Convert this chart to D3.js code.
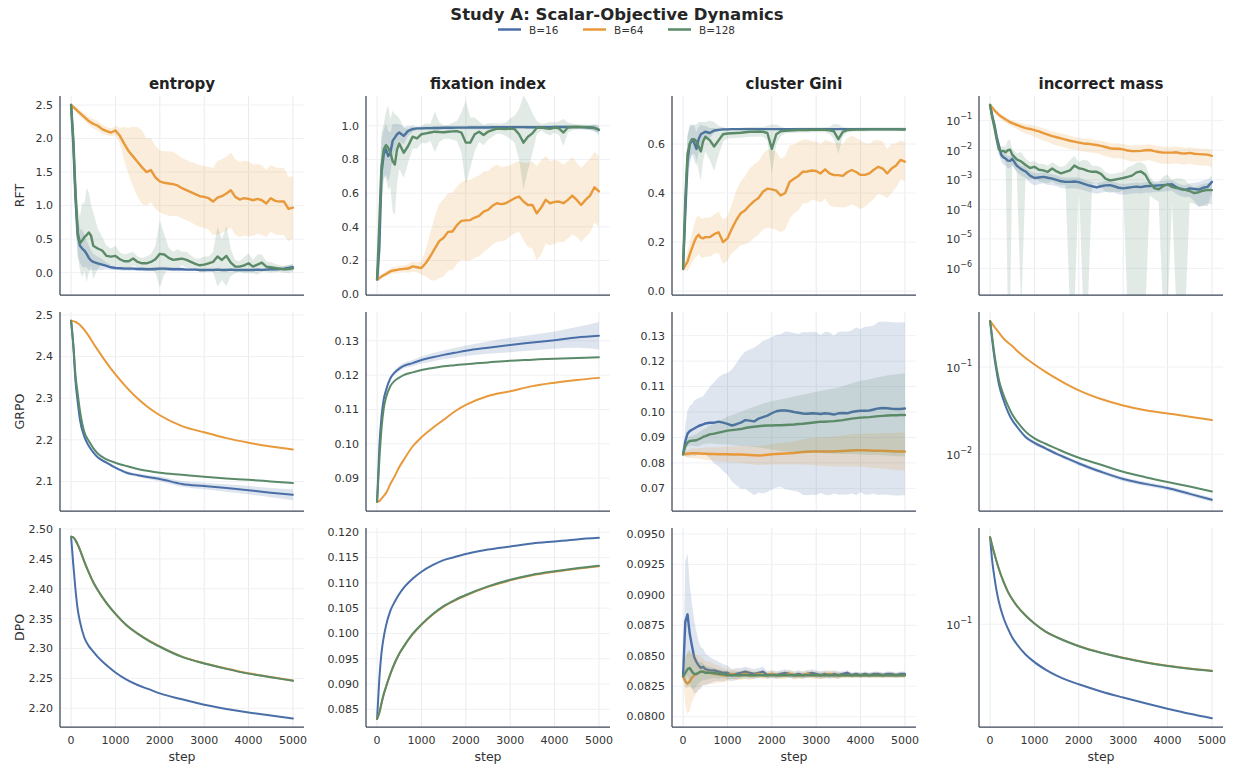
<!DOCTYPE html>
<html>
<head>
<meta charset="utf-8">
<script src="https://cdn.jsdelivr.net/npm/d3@7"></script>
<style>
  html, body { margin: 0; padding: 0; background: #fff; }
  svg { display: block; }
</style>
</head>
<body>
<script>
// ---------------- DATA ----------------
const TITLE = "Study A: Scalar-Objective Dynamics";
const SERIES_NAMES = ["B=16", "B=64", "B=128"];
const COLUMN_TITLES = ["entropy", "fixation index", "cluster Gini", "incorrect mass"];
const ROW_LABELS = ["RFT", "GRPO", "DPO"];
const X_TICKS = [0, 1000, 2000, 3000, 4000, 5000];
const X_LABEL = "step";

const STEPS_NOISY = [0,50,100,150,200,250,300,350,400,450,500,
  600,700,800,900,1000,1100,1200,1300,1400,1500,
  1600,1700,1800,1900,2000,2100,2200,2300,2400,2500,
  2600,2700,2800,2900,3000,3100,3200,3300,3400,3500,
  3600,3700,3800,3900,4000,4100,4200,4300,4400,4500,
  4600,4700,4800,4900,5000];
const STEPS_SMOOTH = [0,50,100,150,200,300,400,500,600,800,1000,1250,1500,1750,2000,2500,3000,3500,4000,4500,5000];

// ---- RFT : entropy ----
const RFT_ENTROPY_B16 = [2.50,1.90,1.10,0.55,0.40,0.36,0.33,0.28,0.22,0.18,0.16,
  0.14,0.12,0.10,0.08,0.07,0.065,0.06,0.06,0.06,0.055,
  0.055,0.05,0.05,0.055,0.06,0.06,0.055,0.05,0.05,0.05,
  0.045,0.045,0.045,0.04,0.04,0.04,0.04,0.045,0.04,0.04,
  0.045,0.04,0.04,0.04,0.04,0.04,0.045,0.04,0.045,0.05,
  0.05,0.055,0.06,0.07,0.08];
const RFT_ENTROPY_B16_SD = [0,0.30,0.40,0.30,0.25,0.28,0.25,0.20,0.18,0.15,0.12,
  0.10,0.08,0.05,0.04,0.03,0.03,0.03,0.03,0.03,0.03,
  0.03,0.03,0.03,0.03,0.03,0.03,0.03,0.03,0.03,0.03,
  0.02,0.02,0.02,0.02,0.02,0.02,0.02,0.02,0.02,0.02,
  0.02,0.02,0.02,0.02,0.02,0.02,0.02,0.02,0.02,0.03,
  0.03,0.03,0.04,0.04,0.05];
const RFT_ENTROPY_B64 = [2.50,2.47,2.44,2.41,2.38,2.35,2.32,2.29,2.26,2.24,2.22,
  2.19,2.14,2.11,2.09,2.12,2.04,1.92,1.81,1.73,1.65,
  1.57,1.50,1.53,1.42,1.36,1.34,1.33,1.32,1.30,1.26,
  1.23,1.20,1.17,1.14,1.13,1.11,1.06,1.12,1.14,1.18,
  1.23,1.13,1.09,1.11,1.10,1.08,1.10,1.08,1.03,1.11,
  1.07,1.06,1.06,0.95,0.97];
const RFT_ENTROPY_B64_SD = [0,0.02,0.03,0.04,0.05,0.05,0.06,0.06,0.06,0.07,0.07,
  0.07,0.07,0.06,0.06,0.07,0.12,0.25,0.35,0.45,0.52,
  0.55,0.50,0.48,0.47,0.46,0.47,0.48,0.48,0.46,0.45,
  0.45,0.45,0.46,0.46,0.46,0.47,0.50,0.55,0.55,0.55,
  0.56,0.56,0.56,0.56,0.56,0.53,0.52,0.52,0.50,0.50,
  0.50,0.50,0.50,0.48,0.46];
const RFT_ENTROPY_B128 = [2.50,2.00,1.20,0.60,0.44,0.48,0.53,0.56,0.60,0.55,0.40,
  0.36,0.33,0.25,0.24,0.25,0.20,0.17,0.17,0.21,0.16,
  0.14,0.14,0.16,0.20,0.28,0.27,0.22,0.19,0.20,0.21,
  0.19,0.16,0.13,0.11,0.12,0.14,0.16,0.24,0.19,0.25,
  0.15,0.09,0.09,0.11,0.14,0.09,0.12,0.15,0.09,0.08,
  0.07,0.06,0.05,0.055,0.065];
const RFT_ENTROPY_B128_SD = [0,0.20,0.30,0.35,0.40,0.55,0.50,0.70,0.60,0.45,0.50,
  0.30,0.20,0.15,0.12,0.15,0.10,0.10,0.12,0.10,0.08,
  0.08,0.10,0.12,0.20,0.50,0.30,0.15,0.12,0.15,0.10,
  0.12,0.10,0.08,0.10,0.12,0.10,0.15,0.45,0.30,0.45,
  0.20,0.10,0.08,0.12,0.15,0.10,0.15,0.12,0.08,0.08,
  0.06,0.05,0.05,0.06,0.06];

// ---- RFT : fixation index ----
const RFT_FIX_B16 = [0.087,0.27,0.72,0.83,0.86,0.82,0.84,0.91,0.93,0.95,0.96,
  0.94,0.97,0.98,0.985,0.985,0.986,0.986,0.987,0.987,0.988,
  0.988,0.988,0.989,0.989,0.989,0.99,0.99,0.99,0.99,0.99,
  0.991,0.991,0.991,0.991,0.991,0.992,0.992,0.992,0.991,0.991,
  0.992,0.992,0.992,0.992,0.993,0.993,0.993,0.993,0.993,0.992,
  0.992,0.991,0.99,0.987,0.975];
const RFT_FIX_B16_SD = [0,0.20,0.20,0.15,0.15,0.15,0.12,0.10,0.08,0.06,0.05,
  0.05,0.03,0.015,0.01,0.01,0.01,0.01,0.01,0.01,0.01,
  0.01,0.01,0.01,0.01,0.01,0.01,0.01,0.01,0.01,0.01,
  0.01,0.01,0.01,0.01,0.01,0.01,0.01,0.01,0.01,0.01,
  0.01,0.01,0.01,0.01,0.01,0.01,0.01,0.01,0.01,0.01,
  0.01,0.012,0.015,0.02,0.03];
const RFT_FIX_B64 = [0.087,0.095,0.105,0.113,0.12,0.128,0.135,0.14,0.142,0.144,0.147,
  0.15,0.152,0.165,0.16,0.155,0.185,0.225,0.27,0.315,0.335,
  0.37,0.372,0.41,0.435,0.438,0.44,0.455,0.465,0.49,0.50,
  0.525,0.54,0.535,0.54,0.555,0.57,0.58,0.55,0.53,0.53,
  0.48,0.515,0.56,0.54,0.548,0.55,0.54,0.56,0.585,0.56,
  0.53,0.56,0.585,0.635,0.61];
const RFT_FIX_B64_SD = [0,0.005,0.01,0.012,0.015,0.015,0.018,0.02,0.02,0.02,0.02,
  0.02,0.025,0.03,0.03,0.04,0.08,0.14,0.19,0.22,0.23,
  0.23,0.23,0.23,0.23,0.24,0.24,0.24,0.24,0.24,0.23,
  0.23,0.23,0.22,0.22,0.21,0.21,0.21,0.23,0.25,0.26,
  0.28,0.28,0.26,0.25,0.25,0.24,0.23,0.23,0.23,0.22,
  0.22,0.22,0.22,0.21,0.21];
const RFT_FIX_B128 = [0.087,0.42,0.76,0.86,0.885,0.87,0.84,0.79,0.77,0.86,0.895,
  0.84,0.88,0.935,0.925,0.95,0.955,0.96,0.965,0.963,0.962,
  0.965,0.967,0.968,0.96,0.90,0.90,0.95,0.965,0.945,0.965,
  0.975,0.984,0.982,0.98,0.984,0.98,0.95,0.90,0.935,0.955,
  0.988,0.99,0.985,0.982,0.99,0.985,0.96,0.99,0.993,0.994,
  0.993,0.992,0.99,0.988,0.978];
const RFT_FIX_B128_SD = [0,0.25,0.20,0.15,0.20,0.25,0.20,0.30,0.30,0.20,0.15,
  0.15,0.10,0.07,0.06,0.05,0.06,0.05,0.12,0.06,0.04,
  0.04,0.05,0.06,0.12,0.25,0.15,0.10,0.06,0.06,0.05,
  0.04,0.03,0.03,0.04,0.06,0.08,0.15,0.28,0.20,0.12,
  0.04,0.02,0.03,0.04,0.03,0.04,0.08,0.03,0.02,0.015,
  0.015,0.015,0.015,0.02,0.02];

// ---- RFT : cluster Gini ----
const RFT_GINI_B16 = [0.10,0.32,0.53,0.60,0.62,0.605,0.58,0.62,0.64,0.645,0.65,
  0.645,0.655,0.658,0.66,0.66,0.661,0.661,0.661,0.661,0.661,
  0.661,0.661,0.661,0.661,0.661,0.661,0.661,0.661,0.661,0.661,
  0.661,0.661,0.661,0.661,0.661,0.661,0.661,0.661,0.661,0.661,
  0.661,0.661,0.661,0.661,0.661,0.661,0.661,0.661,0.661,0.661,
  0.661,0.661,0.661,0.66,0.66];
const RFT_GINI_B16_SD = [0,0.10,0.10,0.08,0.06,0.07,0.07,0.05,0.04,0.03,0.025,
  0.02,0.01,0.006,0.005,0.005,0.004,0.004,0.004,0.004,0.004,
  0.004,0.004,0.004,0.004,0.004,0.004,0.004,0.004,0.004,0.004,
  0.004,0.004,0.004,0.004,0.004,0.004,0.004,0.004,0.004,0.004,
  0.004,0.004,0.004,0.004,0.004,0.004,0.004,0.004,0.004,0.004,
  0.004,0.004,0.004,0.005,0.006];
const RFT_GINI_B64 = [0.09,0.105,0.12,0.15,0.175,0.20,0.22,0.23,0.218,0.215,0.22,
  0.22,0.232,0.24,0.20,0.215,0.255,0.29,0.318,0.33,0.35,
  0.367,0.38,0.405,0.418,0.415,0.41,0.39,0.40,0.445,0.458,
  0.47,0.487,0.488,0.492,0.49,0.48,0.497,0.48,0.473,0.473,
  0.47,0.485,0.494,0.486,0.474,0.474,0.48,0.495,0.507,0.50,
  0.48,0.50,0.512,0.535,0.528];
const RFT_GINI_B64_SD = [0,0.02,0.04,0.05,0.06,0.07,0.08,0.08,0.08,0.08,0.08,
  0.08,0.08,0.085,0.09,0.09,0.10,0.12,0.13,0.14,0.15,
  0.15,0.15,0.155,0.16,0.16,0.16,0.15,0.15,0.15,0.14,
  0.14,0.13,0.13,0.12,0.12,0.12,0.12,0.13,0.13,0.13,
  0.13,0.14,0.14,0.14,0.14,0.13,0.12,0.12,0.11,0.11,
  0.10,0.10,0.09,0.08,0.08];
const RFT_GINI_B128 = [0.09,0.38,0.56,0.60,0.616,0.62,0.61,0.59,0.57,0.61,0.63,
  0.616,0.59,0.615,0.64,0.643,0.644,0.645,0.646,0.648,0.65,
  0.65,0.651,0.65,0.645,0.58,0.64,0.652,0.654,0.655,0.656,
  0.657,0.657,0.657,0.658,0.658,0.658,0.658,0.656,0.652,0.62,
  0.65,0.657,0.658,0.659,0.659,0.659,0.66,0.66,0.66,0.66,
  0.66,0.66,0.66,0.66,0.66];
const RFT_GINI_B128_SD = [0,0.10,0.08,0.07,0.06,0.06,0.07,0.10,0.12,0.08,0.06,
  0.08,0.10,0.06,0.03,0.02,0.02,0.02,0.02,0.02,0.02,
  0.02,0.02,0.02,0.03,0.10,0.04,0.02,0.01,0.01,0.01,
  0.01,0.01,0.01,0.01,0.01,0.01,0.01,0.015,0.03,0.06,
  0.02,0.01,0.008,0.008,0.008,0.008,0.008,0.008,0.008,0.008,
  0.008,0.008,0.008,0.008,0.008];

// ---- RFT : incorrect mass ----
const RFT_MASS_B16 = [0.339,0.141,0.0708,0.0282,0.0141,0.00708,0.00575,0.00525,0.00447,0.00437,0.00513,
  0.00302,0.00229,0.00191,0.00138,0.00115,0.00120,0.00126,0.00117,0.00110,0.00100,
  0.000891,0.000851,0.000851,0.000871,0.000832,0.000741,0.000661,0.000603,0.000550,0.000603,
  0.000646,0.000661,0.000603,0.000537,0.000513,0.000537,0.000562,0.000589,0.000562,0.000603,
  0.000617,0.000631,0.000646,0.000661,0.000676,0.000708,0.000562,0.000479,0.000457,0.000513,
  0.000490,0.000468,0.000537,0.000575,0.000851];
const RFT_MASS_B16_SD = [0,0.04,0.025,0.01,0.005,0.003,0.0025,0.0022,0.002,0.0019,0.002,
  0.0012,0.0009,0.0008,0.0006,0.0005,0.0005,0.0005,0.0005,0.00045,0.0004,
  0.00036,0.00034,0.00034,0.00035,0.00033,0.0003,0.00026,0.00024,0.00022,0.00024,
  0.00026,0.00026,0.00024,0.00021,0.0002,0.00021,0.00022,0.00024,0.00022,0.00024,
  0.00025,0.00025,0.00026,0.00026,0.00027,0.00028,0.00023,0.0002,0.0002,0.00025,
  0.0003,0.00035,0.0004,0.00045,0.0005];
const RFT_MASS_B64 = [0.339,0.275,0.224,0.186,0.158,0.138,0.123,0.110,0.100,0.0891,0.0832,
  0.0724,0.0631,0.0562,0.0525,0.0479,0.0437,0.0380,0.0339,0.0302,0.0275,
  0.0251,0.0229,0.0209,0.0195,0.0182,0.0170,0.0166,0.0158,0.0151,0.0141,
  0.0129,0.0117,0.0112,0.0112,0.0107,0.00977,0.00933,0.00933,0.00955,0.0100,
  0.0102,0.00933,0.00871,0.00832,0.00832,0.00832,0.00851,0.00794,0.00776,0.00813,
  0.00759,0.00741,0.00724,0.00708,0.00646];
const RFT_MASS_B64_SD = [0,0.02,0.03,0.03,0.03,0.028,0.026,0.024,0.022,0.02,0.02,
  0.02,0.02,0.02,0.02,0.02,0.019,0.017,0.015,0.014,0.013,
  0.012,0.011,0.01,0.009,0.0085,0.008,0.008,0.0075,0.007,0.007,
  0.0065,0.006,0.0058,0.0058,0.0056,0.0053,0.0052,0.0052,0.0053,0.0055,
  0.0056,0.0052,0.005,0.0048,0.0048,0.0048,0.0048,0.0046,0.0045,0.0046,
  0.0044,0.0043,0.0042,0.0041,0.0038];
const RFT_MASS_B128 = [0.339,0.126,0.0562,0.0224,0.0105,0.00933,0.00955,0.00851,0.0100,0.0105,0.00708,
  0.00490,0.00417,0.00316,0.00251,0.00275,0.00219,0.00209,0.00186,0.00240,0.00191,
  0.00166,0.00186,0.00209,0.00302,0.00245,0.00229,0.00200,0.00186,0.00186,0.00158,
  0.00110,0.000955,0.00100,0.00107,0.00115,0.00126,0.00138,0.00178,0.00191,0.00148,
  0.000794,0.000525,0.000479,0.000603,0.000708,0.000575,0.000525,0.000501,0.000457,0.000417,
  0.000355,0.000380,0.000427,0.000457,0.000447];
const RFT_MASS_B128_SD = [0,0.03,0.02,0.008,0.004,0.004,0.004,0.005,0.012,0.012,0.004,
  0.003,0.0045,0.002,0.0015,0.0016,0.0013,0.0013,0.0011,0.0015,0.0012,
  0.001,0.0012,0.0025,0.0035,0.0015,0.0025,0.0025,0.0011,0.0011,0.001,
  0.0007,0.0006,0.0006,0.0007,0.0007,0.0014,0.0016,0.002,0.002,0.0017,
  0.0005,0.0003,0.0003,0.0007,0.0008,0.0004,0.0006,0.0006,0.0005,0.00025,
  0.0002,0.00025,0.0003,0.0003,0.0003];

// ---- GRPO ----
const GRPO_ENTROPY_B16 = [2.486,2.425,2.34,2.29,2.248,2.207,2.185,2.17,2.158,2.145,2.133,2.121,2.115,2.110,2.106,2.094,2.089,2.084,2.079,2.073,2.068];
const GRPO_ENTROPY_B16_SD = [0,0.001,0.001,0.001,0.001,0.002,0.002,0.002,0.002,0.003,0.003,0.004,0.004,0.005,0.006,0.007,0.008,0.009,0.010,0.011,0.013];
const GRPO_ENTROPY_B64 = [2.486,2.485,2.483,2.480,2.476,2.464,2.449,2.432,2.416,2.385,2.357,2.326,2.299,2.277,2.259,2.233,2.218,2.204,2.193,2.184,2.177];
const GRPO_ENTROPY_B128 = [2.486,2.43,2.355,2.31,2.27,2.218,2.197,2.18,2.167,2.153,2.145,2.137,2.130,2.125,2.121,2.116,2.111,2.107,2.104,2.100,2.096];

const GRPO_FIX_B16 = [0.0831,0.099,0.108,0.113,0.1156,0.1191,0.1208,0.1219,0.1227,0.1235,0.1244,0.1252,0.1259,0.1265,0.1271,0.128,0.1288,0.1295,0.1302,0.131,0.1315];
const GRPO_FIX_B16_SD = [0,0.0003,0.0004,0.0005,0.0005,0.0006,0.0007,0.0008,0.0008,0.0009,0.001,0.0012,0.0013,0.0014,0.0015,0.0018,0.0021,0.0023,0.0025,0.003,0.004];
const GRPO_FIX_B64 = [0.0831,0.0833,0.0840,0.0848,0.0856,0.0883,0.0906,0.0932,0.0953,0.0992,0.1019,0.1046,0.107,0.1094,0.1113,0.1139,0.1153,0.1168,0.1178,0.1186,0.1192];
const GRPO_FIX_B128 = [0.0831,0.095,0.1045,0.1103,0.1134,0.1168,0.1184,0.1193,0.12,0.1208,0.1215,0.1221,0.1226,0.1229,0.1232,0.1237,0.1242,0.1245,0.1248,0.125,0.1252];

const GRPO_GINI_B16 = [0.0834,0.0885,0.0915,0.0925,0.093,0.0935,0.094,0.0945,0.0948,0.0951,0.0955,
  0.0958,0.0958,0.0962,0.0958,0.0953,0.0947,0.0952,0.0958,0.0968,0.0966,
  0.0963,0.0974,0.0980,0.0986,0.0995,0.1003,0.1006,0.1006,0.1004,0.1000,
  0.0997,0.0994,0.0993,0.0995,0.0994,0.0992,0.0995,0.0993,0.0990,0.0995,
  0.0996,0.0995,0.1000,0.1003,0.1005,0.1005,0.1006,0.1010,0.1014,0.1016,
  0.1015,0.1013,0.1012,0.1012,0.1014];
const GRPO_GINI_B16_SD = [0,0.006,0.009,0.010,0.010,0.011,0.011,0.011,0.011,0.011,0.012,
  0.014,0.016,0.0175,0.019,0.020,0.022,0.024,0.026,0.027,0.028,
  0.029,0.029,0.030,0.030,0.030,0.030,0.030,0.031,0.031,0.031,
  0.031,0.032,0.032,0.032,0.032,0.031,0.032,0.032,0.031,0.032,
  0.032,0.032,0.032,0.033,0.032,0.033,0.033,0.033,0.034,0.034,
  0.034,0.034,0.034,0.034,0.034];
const GRPO_GINI_B64 = [0.0834,0.0835,0.0836,0.0837,0.0838,0.0838,0.0838,0.0837,0.0837,0.0836,0.0836,
  0.0835,0.0835,0.0834,0.0834,0.0834,0.0833,0.0833,0.0833,0.0832,0.0831,
  0.0830,0.0829,0.0830,0.0832,0.0834,0.0835,0.0836,0.0837,0.0838,0.0839,
  0.0841,0.0843,0.0844,0.0845,0.0845,0.0845,0.0845,0.0845,0.0845,0.0846,
  0.0847,0.0848,0.0849,0.0850,0.0850,0.0850,0.0849,0.0848,0.0848,0.0848,
  0.0847,0.0846,0.0845,0.0845,0.0845];
const GRPO_GINI_B64_SD = [0,0.001,0.0015,0.0017,0.002,0.002,0.002,0.0021,0.0022,0.0023,0.0025,
  0.0026,0.0027,0.0028,0.0029,0.003,0.0031,0.0032,0.0033,0.0034,0.0035,
  0.0036,0.0037,0.0038,0.0039,0.004,0.0041,0.0042,0.0043,0.0044,0.0045,
  0.0047,0.0049,0.0051,0.0053,0.0055,0.0056,0.0057,0.0058,0.0059,0.006,
  0.0061,0.0062,0.0063,0.0064,0.0065,0.0066,0.0067,0.0068,0.0069,0.007,
  0.0071,0.0072,0.0073,0.0074,0.0075];
const GRPO_GINI_B128 = [0.0834,0.0866,0.0880,0.0886,0.0887,0.0888,0.0889,0.0893,0.0897,0.0902,0.0905,
  0.0912,0.0915,0.0919,0.0923,0.0927,0.0929,0.0931,0.0933,0.0937,0.0940,
  0.0942,0.0944,0.0946,0.0947,0.0947,0.0948,0.0948,0.0949,0.0950,0.0951,
  0.0953,0.0954,0.0956,0.0958,0.0960,0.0962,0.0962,0.0963,0.0964,0.0966,
  0.0968,0.0971,0.0974,0.0976,0.0978,0.0979,0.0980,0.0982,0.0984,0.0985,
  0.0986,0.0987,0.0987,0.0988,0.0988];
const GRPO_GINI_B128_SD = [0,0.001,0.0015,0.0018,0.002,0.0022,0.0025,0.0027,0.0028,0.0029,0.003,
  0.0035,0.004,0.0045,0.005,0.0055,0.0059,0.0063,0.0067,0.0071,0.0075,
  0.0079,0.0083,0.0087,0.0091,0.0095,0.0098,0.0101,0.0104,0.0107,0.011,
  0.0112,0.0114,0.0116,0.0118,0.012,0.0122,0.0124,0.0126,0.0128,0.013,
  0.0133,0.0136,0.0139,0.0142,0.0145,0.0147,0.0149,0.0151,0.0153,0.0155,
  0.0157,0.0159,0.0161,0.0162,0.0163];

const GRPO_MASS_B16 = [0.338,0.2,0.126,0.0871,0.0631,0.0422,0.0309,0.0245,0.0209,0.0158,0.0135,0.0117,0.0101,0.00891,0.00785,0.0063,0.0052,0.00458,0.0041,0.00352,0.00301];
const GRPO_MASS_B16_SD = [0,0.005,0.005,0.004,0.003,0.002,0.0015,0.0012,0.001,0.0008,0.0007,0.0006,0.0005,0.00045,0.0004,0.00033,0.00028,0.00025,0.00022,0.0002,0.00018];
const GRPO_MASS_B64 = [0.338,0.313,0.288,0.267,0.248,0.214,0.191,0.174,0.155,0.127,0.107,0.0881,0.0736,0.0624,0.054,0.043,0.0363,0.032,0.0294,0.027,0.0247];
const GRPO_MASS_B128 = [0.338,0.216,0.138,0.0955,0.0708,0.0484,0.0363,0.0285,0.024,0.0182,0.0152,0.0132,0.0116,0.0102,0.00912,0.00759,0.00631,0.00547,0.00481,0.00427,0.00375];

// ---- DPO ----
const DPO_ENTROPY_B16 = [2.487,2.44,2.398,2.365,2.345,2.318,2.304,2.295,2.286,2.272,2.26,2.248,2.239,2.232,2.225,2.215,2.206,2.199,2.193,2.188,2.183];
const DPO_ENTROPY_B64 = [2.487,2.486,2.481,2.474,2.465,2.445,2.427,2.411,2.398,2.376,2.358,2.339,2.325,2.3135,2.3035,2.2865,2.2755,2.2665,2.2585,2.2525,2.2465];
const DPO_ENTROPY_B128 = [2.487,2.486,2.481,2.474,2.465,2.445,2.427,2.411,2.398,2.376,2.358,2.339,2.325,2.313,2.303,2.286,2.275,2.266,2.258,2.252,2.246];

const DPO_FIX_B16 = [0.0831,0.091,0.0962,0.0993,0.1015,0.1045,0.1063,0.1078,0.109,0.1108,0.1122,0.1135,0.1145,0.1151,0.1157,0.1166,0.1172,0.1178,0.1182,0.1186,0.1189];
const DPO_FIX_B64 = [0.0831,0.0843,0.0862,0.088,0.0894,0.092,0.0942,0.096,0.0974,0.0998,0.1017,0.1037,0.1053,0.1065,0.1075,0.1092,0.1105,0.1115,0.1122,0.1128,0.1133];
const DPO_FIX_B128 = [0.0831,0.0843,0.0862,0.088,0.0894,0.092,0.0942,0.096,0.0974,0.0999,0.1018,0.1038,0.1054,0.1066,0.1076,0.1093,0.1106,0.1116,0.1123,0.1129,0.1134];

const DPO_GINI_B16 = [0.0834,0.0878,0.0884,0.0868,0.0858,0.0849,0.0845,0.0842,0.0840,0.0841,0.0839,
  0.0838,0.0838,0.0837,0.0836,0.0836,0.0834,0.0835,0.0836,0.0837,0.0836,
  0.0835,0.0836,0.0837,0.0834,0.0835,0.0834,0.0835,0.0836,0.0835,0.0834,
  0.0835,0.0834,0.0835,0.0836,0.0835,0.0834,0.0835,0.0834,0.0835,0.0834,
  0.0835,0.0836,0.0834,0.0835,0.0834,0.0835,0.0834,0.0835,0.0835,0.0834,
  0.0835,0.0835,0.0834,0.0835,0.0835];
const DPO_GINI_B16_SD = [0,0.0050,0.0050,0.0040,0.0035,0.0030,0.0025,0.0020,0.0017,0.0015,0.0013,
  0.0011,0.0009,0.0008,0.0007,0.0006,0.0005,0.0005,0.0004,0.0004,0.0004,
  0.0004,0.0004,0.0004,0.0003,0.0003,0.0003,0.0003,0.0003,0.0003,0.0003,
  0.0003,0.0003,0.0003,0.0003,0.0003,0.0003,0.0003,0.0003,0.0003,0.0003,
  0.0002,0.0002,0.0002,0.0002,0.0002,0.0002,0.0002,0.0002,0.0002,0.0002,
  0.0002,0.0002,0.0002,0.0002,0.0002];
const DPO_GINI_B64 = [0.0833,0.0829,0.0827,0.0829,0.0832,0.0834,0.0835,0.0836,0.0837,0.0837,0.0836,
  0.0836,0.0835,0.0835,0.0834,0.0834,0.0835,0.0834,0.0834,0.0835,0.0834,
  0.0834,0.0835,0.0834,0.0834,0.0835,0.0834,0.0834,0.0834,0.0835,0.0834,
  0.0834,0.0834,0.0835,0.0834,0.0834,0.0834,0.0834,0.0835,0.0834,0.0834,
  0.0834,0.0834,0.0834,0.0834,0.0834,0.0834,0.0834,0.0834,0.0834,0.0834,
  0.0834,0.0834,0.0834,0.0834,0.0834];
const DPO_GINI_B64_SD = [0,0.0020,0.0025,0.0024,0.0020,0.0018,0.0016,0.0014,0.0012,0.0011,0.0010,
  0.0009,0.0008,0.0007,0.0006,0.0005,0.0004,0.0004,0.0004,0.0004,0.0004,
  0.0003,0.0003,0.0003,0.0003,0.0003,0.0003,0.0003,0.0003,0.0003,0.0003,
  0.0003,0.0003,0.0003,0.0003,0.0003,0.0003,0.0003,0.0003,0.0003,0.0003,
  0.0002,0.0002,0.0002,0.0002,0.0002,0.0002,0.0002,0.0002,0.0002,0.0002,
  0.0002,0.0002,0.0002,0.0002,0.0002];
const DPO_GINI_B128 = [0.0833,0.0836,0.0839,0.0840,0.0837,0.0835,0.0835,0.0836,0.0837,0.0837,0.0836,
  0.0836,0.0836,0.0835,0.0835,0.0834,0.0834,0.0834,0.0834,0.0834,0.0834,
  0.0834,0.0834,0.0834,0.0834,0.0834,0.0834,0.0834,0.0834,0.0834,0.0834,
  0.0834,0.0834,0.0834,0.0834,0.0834,0.0834,0.0834,0.0834,0.0834,0.0834,
  0.0834,0.0834,0.0834,0.0834,0.0834,0.0834,0.0834,0.0834,0.0834,0.0834,
  0.0834,0.0834,0.0834,0.0834,0.0834];
const DPO_GINI_B128_SD = [0,0.0012,0.0015,0.0015,0.0014,0.0012,0.0010,0.0009,0.0008,0.0007,0.0006,
  0.0005,0.0004,0.0004,0.0003,0.0003,0.0003,0.0003,0.0003,0.0003,0.0003,
  0.0002,0.0002,0.0002,0.0002,0.0002,0.0002,0.0002,0.0002,0.0002,0.0002,
  0.0002,0.0002,0.0002,0.0002,0.0002,0.0002,0.0002,0.0002,0.0002,0.0002,
  0.0002,0.0002,0.0002,0.0002,0.0002,0.0002,0.0002,0.0002,0.0002,0.0002,
  0.0002,0.0002,0.0002,0.0002,0.0002];

const DPO_MASS_B16 = [0.338,0.24,0.191,0.158,0.136,0.11,0.0944,0.0832,0.0759,0.0656,0.0589,0.0531,0.0488,0.0456,0.0432,0.0391,0.0359,0.0331,0.0307,0.0286,0.0269];
const DPO_MASS_B64 = [0.338,0.299,0.266,0.239,0.216,0.182,0.158,0.142,0.130,0.113,0.101,0.0903,0.0836,0.0782,0.0738,0.0673,0.0626,0.0588,0.056,0.0539,0.0522];
const DPO_MASS_B128 = [0.338,0.299,0.266,0.239,0.216,0.182,0.158,0.142,0.130,0.113,0.101,0.0902,0.0834,0.078,0.0736,0.0671,0.0624,0.0586,0.0558,0.0537,0.052];

// ---------------- STYLE / LAYOUT ----------------
const W = 1234, H = 768;
const COLORS = ["#4a6fa8", "#e8993a", "#5a8a68"];
const COL_X = [60, 366, 672, 979];
const ROW_Y = [96, 312, 528];
const PW = 244, PH = 199;
const X_DOMAIN = [-250, 5250];
const FONT = "'DejaVu Sans', 'Liberation Sans', sans-serif";
const SPINE = "#3b4659";
const GRID = "#e8ebf1";
const TEXT = "#333333";

const P10 = e => Math.pow(10, e);
const S = (y, sd) => ({ y, sd });
const PANELS = [
  { row:0, col:0, steps:STEPS_NOISY, domain:[-0.333, 2.634], ticks:[0,0.5,1,1.5,2,2.5], fmt:".1f",
    series:[S(RFT_ENTROPY_B16,RFT_ENTROPY_B16_SD), S(RFT_ENTROPY_B64,RFT_ENTROPY_B64_SD), S(RFT_ENTROPY_B128,RFT_ENTROPY_B128_SD)] },
  { row:0, col:1, steps:STEPS_NOISY, domain:[-0.005, 1.177], ticks:[0,0.2,0.4,0.6,0.8,1.0], fmt:".1f",
    series:[S(RFT_FIX_B16,RFT_FIX_B16_SD), S(RFT_FIX_B64,RFT_FIX_B64_SD), S(RFT_FIX_B128,RFT_FIX_B128_SD)] },
  { row:0, col:2, steps:STEPS_NOISY, domain:[-0.016, 0.796], ticks:[0,0.2,0.4,0.6], fmt:".1f",
    series:[S(RFT_GINI_B16,RFT_GINI_B16_SD), S(RFT_GINI_B64,RFT_GINI_B64_SD), S(RFT_GINI_B128,RFT_GINI_B128_SD)] },
  { row:0, col:3, steps:STEPS_NOISY, log:true, domain:[P10(-6.9), P10(-0.164)], ticks:[-6,-5,-4,-3,-2,-1],
    series:[S(RFT_MASS_B16,RFT_MASS_B16_SD), S(RFT_MASS_B64,RFT_MASS_B64_SD), S(RFT_MASS_B128,RFT_MASS_B128_SD)] },

  { row:1, col:0, steps:STEPS_SMOOTH, smooth:true, domain:[2.029, 2.507], ticks:[2.1,2.2,2.3,2.4,2.5], fmt:".1f",
    series:[S(GRPO_ENTROPY_B16,GRPO_ENTROPY_B16_SD), S(GRPO_ENTROPY_B64,null), S(GRPO_ENTROPY_B128,null)] },
  { row:1, col:1, steps:STEPS_SMOOTH, smooth:true, domain:[0.0804, 0.1384], ticks:[0.09,0.10,0.11,0.12,0.13], fmt:".2f",
    series:[S(GRPO_FIX_B16,GRPO_FIX_B16_SD), S(GRPO_FIX_B64,null), S(GRPO_FIX_B128,null)] },
  { row:1, col:2, steps:STEPS_NOISY, domain:[0.0611, 0.1393], ticks:[0.07,0.08,0.09,0.10,0.11,0.12,0.13], fmt:".2f",
    series:[S(GRPO_GINI_B16,GRPO_GINI_B16_SD), S(GRPO_GINI_B64,GRPO_GINI_B64_SD), S(GRPO_GINI_B128,GRPO_GINI_B128_SD)] },
  { row:1, col:3, steps:STEPS_SMOOTH, smooth:true, log:true, domain:[P10(-2.65), P10(-0.369)], ticks:[-2,-1],
    series:[S(GRPO_MASS_B16,GRPO_MASS_B16_SD), S(GRPO_MASS_B64,null), S(GRPO_MASS_B128,null)] },

  { row:2, col:0, steps:STEPS_SMOOTH, smooth:true, domain:[2.1687, 2.5017], ticks:[2.20,2.25,2.30,2.35,2.40,2.45,2.50], fmt:".2f",
    series:[S(DPO_ENTROPY_B16,null), S(DPO_ENTROPY_B64,null), S(DPO_ENTROPY_B128,null)] },
  { row:2, col:1, steps:STEPS_SMOOTH, smooth:true, domain:[0.0815, 0.12085], ticks:[0.085,0.090,0.095,0.100,0.105,0.110,0.115,0.120], fmt:".3f",
    series:[S(DPO_FIX_B16,null), S(DPO_FIX_B64,null), S(DPO_FIX_B128,null)] },
  { row:2, col:2, steps:STEPS_NOISY, domain:[0.07915, 0.09549], ticks:[0.0800,0.0825,0.0850,0.0875,0.0900,0.0925,0.0950], fmt:".4f",
    series:[S(DPO_GINI_B16,DPO_GINI_B16_SD), S(DPO_GINI_B64,DPO_GINI_B64_SD), S(DPO_GINI_B128,DPO_GINI_B128_SD)] },
  { row:2, col:3, steps:STEPS_SMOOTH, smooth:true, log:true, domain:[P10(-1.624), P10(-0.415)], ticks:[-1],
    series:[S(DPO_MASS_B16,null), S(DPO_MASS_B64,null), S(DPO_MASS_B128,null)] },
];

// ---------------- DRAW ----------------
const svg = d3.select("body").append("svg")
  .attr("width", W).attr("height", H)
  .style("font-family", FONT);
svg.append("rect").attr("width", W).attr("height", H).attr("fill", "#fff");
const defs = svg.append("defs");

PANELS.forEach((p, i) => {
  const x0 = COL_X[p.col], y0 = ROW_Y[p.row];
  const x = d3.scaleLinear().domain(X_DOMAIN).range([x0, x0 + PW]);
  const y = (p.log ? d3.scaleLog() : d3.scaleLinear()).domain(p.domain).range([y0 + PH, y0]);
  const g = svg.append("g");

  const clipId = "clip" + i;
  defs.append("clipPath").attr("id", clipId).append("rect")
    .attr("x", x0).attr("y", y0).attr("width", PW).attr("height", PH);

  // grid
  const yTickVals = p.log ? p.ticks.map(P10) : p.ticks;
  g.append("g").selectAll("line").data(X_TICKS).join("line")
    .attr("x1", d => x(d)).attr("x2", d => x(d)).attr("y1", y0).attr("y2", y0 + PH)
    .attr("stroke", GRID).attr("stroke-width", 1);
  g.append("g").selectAll("line").data(yTickVals).join("line")
    .attr("x1", x0).attr("x2", x0 + PW).attr("y1", d => y(d)).attr("y2", d => y(d))
    .attr("stroke", "#f0f1f5").attr("stroke-width", 1);

  // data
  const plot = g.append("g").attr("clip-path", `url(#${clipId})`);
  const lo = p.log ? p.domain[0] * 0.3 : -Infinity;
  p.series.forEach((s, k) => {
    const pts = p.steps.map((st, j) => ({ st, v: s.y[j], sd: s.sd ? s.sd[j] : 0 }));
    if (s.sd) {
      const area = d3.area()
        .x(d => x(d.st))
        .y0(d => y(Math.max(d.v - d.sd, lo)))
        .y1(d => y(d.v + d.sd));
      if (p.smooth) area.curve(d3.curveMonotoneX);
      plot.append("path").datum(pts).attr("d", area)
        .attr("fill", COLORS[k]).attr("fill-opacity", 0.18).attr("stroke", "none");
    }
    const line = d3.line().x(d => x(d.st)).y(d => y(d.v));
    if (p.smooth) line.curve(d3.curveMonotoneX);
    plot.append("path").datum(pts).attr("d", line)
      .attr("fill", "none").attr("stroke", COLORS[k])
      .attr("stroke-width", p.smooth ? 2.0 : 2.4)
      .attr("stroke-linejoin", "round").attr("stroke-linecap", "round");
  });

  // spines
  g.append("line").attr("x1", x0).attr("x2", x0).attr("y1", y0).attr("y2", y0 + PH)
    .attr("stroke", SPINE).attr("stroke-width", 1.25);
  g.append("line").attr("x1", x0).attr("x2", x0 + PW).attr("y1", y0 + PH).attr("y2", y0 + PH)
    .attr("stroke", SPINE).attr("stroke-width", 1.25);

  // y tick labels
  const yl = g.append("g").attr("font-size", 11).attr("fill", TEXT).attr("text-anchor", "end");
  if (p.log) {
    p.ticks.forEach(e => {
      const t = yl.append("text").attr("x", x0 - 7).attr("y", y(P10(e))).attr("dy", "0.42em");
      t.append("tspan").text("10");
      t.append("tspan").attr("font-size", 8).attr("dy", "-0.75em").text("\u2212" + Math.abs(e));
    });
  } else {
    const f = d3.format(p.fmt);
    yl.selectAll("text").data(p.ticks).join("text")
      .attr("x", x0 - 7).attr("y", d => y(d)).attr("dy", "0.35em").text(d => f(d));
  }

  // x tick labels (bottom row only)
  if (p.row === 2) {
    g.append("g").attr("font-size", 11).attr("fill", TEXT).attr("text-anchor", "middle")
      .selectAll("text").data(X_TICKS).join("text")
      .attr("x", d => x(d)).attr("y", y0 + PH + 17).text(d => d);
    g.append("text").attr("x", x0 + PW / 2).attr("y", y0 + PH + 34)
      .attr("text-anchor", "middle").attr("font-size", 12.5).attr("fill", TEXT).text(X_LABEL);
  }
  if (p.row === 0) {
    g.append("text").attr("x", x0 + PW / 2).attr("y", y0 - 7)
      .attr("text-anchor", "middle").attr("font-size", 15).attr("font-weight", "bold")
      .attr("fill", "#222").text(COLUMN_TITLES[p.col]);
  }
  if (p.col === 0) {
    g.append("text").attr("transform", `translate(24,${y0 + PH / 2}) rotate(-90)`)
      .attr("text-anchor", "middle").attr("font-size", 12.5).attr("fill", TEXT).text(ROW_LABELS[p.row]);
  }
});

// title
svg.append("text").attr("x", 617).attr("y", 20).attr("text-anchor", "middle")
  .attr("font-size", 16.5).attr("font-weight", "bold").attr("fill", "#262626").text(TITLE);

// legend
const LEG_X = [498, 583, 668];
SERIES_NAMES.forEach((n, k) => {
  svg.append("line").attr("x1", LEG_X[k]).attr("x2", LEG_X[k] + 23).attr("y1", 29.5).attr("y2", 29.5)
    .attr("stroke", COLORS[k]).attr("stroke-width", 2.5);
  svg.append("text").attr("x", LEG_X[k] + 31).attr("y", 33.5).attr("font-size", 10.5)
    .attr("fill", TEXT).text(n);
});
</script>
</body>
</html>
